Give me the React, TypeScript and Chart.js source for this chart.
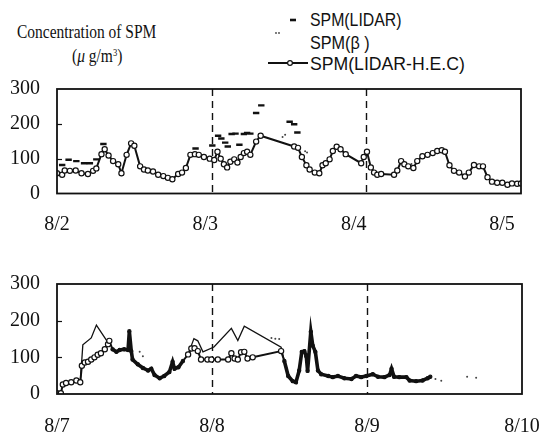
import { useEffect, useRef } from "react";
import { Chart, registerables } from "chart.js";

Chart.register(...registerables);

// ---- data -------------------------------------------------------------
// x values are hours counted from 00:00 of the first day of each panel

const TOP_DAY_LABELS = ["8/2", "8/3", "8/4", "8/5"];
const BOTTOM_DAY_LABELS = ["8/7", "8/8", "8/9", "8/10"];
const Y_TICKS = [0, 100, 200, 300];

// 8/2 - 8/5 : SPM(LIDAR-H.E.C)
const topHecHours = [
  0, 0.8, 1.2, 2.0, 2.9, 3.8, 4.8, 5.6, 6.1, 6.9, 7.4, 8.0, 8.7, 9.5, 10.0, 10.8,
  11.5, 12.0, 12.9, 13.5, 14.1, 14.9, 15.7, 16.5, 17.2, 17.9, 18.8, 19.4, 20.0,
  20.7, 21.4, 22.0, 22.8, 23.7, 24.4, 24.9, 25.4, 25.9, 26.4, 26.9, 27.5, 28.0,
  28.5, 29.0, 29.5, 30.0, 30.9, 31.6, 36.8, 37.4, 38.0, 38.7, 39.2, 40.0, 40.7,
  41.2, 41.7, 42.3, 42.8, 43.4, 44.0, 44.8, 47.2, 47.6, 48.1, 48.7, 49.2, 49.7,
  50.3, 52.3, 52.8, 53.4, 53.9, 54.5, 55.3, 55.9, 56.7, 57.5, 58.3, 59.0, 59.7,
  60.2, 60.9, 61.6, 62.4, 63.3, 63.9, 64.7, 65.5, 66.1, 66.8, 67.5, 68.3, 69.1,
  69.9, 70.6, 71.4, 72.0,
];
const topHecValues = [
  58, 54, 66, 65, 66, 58, 56, 65, 72, 113, 127, 109, 93, 84, 58, 111,
  144, 137, 78, 69, 66, 63, 54, 50, 45, 41, 56, 60, 73,
  111, 113, 111, 105, 100, 96, 120, 100, 84, 75, 91, 98, 89,
  105, 116, 120, 111, 149, 166, 135, 131, 105, 81, 69, 60, 58,
  81, 87, 98, 122, 134, 127, 113, 87, 105, 120, 75, 60, 54,
  56, 54, 66, 93, 84, 78, 73, 93, 107, 111, 116, 122, 124,
  120, 81, 65, 60, 49, 60, 82, 78, 78, 47, 34, 31, 31,
  25, 29, 28, 29,
];

// 8/2 - 8/5 : SPM(LIDAR)
const topLidarHours = [
  0.8, 1.8, 3.0, 4.2, 5.1, 6.1, 7.2, 21.5, 24.1, 25.0, 25.5, 26.1, 26.5, 27.1,
  27.7, 28.3, 29.0, 29.5, 30.0, 30.9, 31.7, 36.1, 36.8, 37.3,
];
const topLidarValues = [
  82, 97, 93, 87, 87, 98, 142, 129, 138, 166, 158, 146, 135, 171,
  172, 140, 171, 174, 172, 231, 253, 206, 199, 175,
];

// 8/2 - 8/5 : SPM(beta)
const topBetaHours = [35.0, 35.4, 38.5, 38.8, 55.0];
const topBetaValues = [162, 169, 121, 118, 85];

// 8/7 - 8/10 : SPM(LIDAR-H.E.C)
const bottomHecHours = [
  0, 0.6, 0.9, 1.4, 2.2, 3.0, 3.6, 3.85, 4.3, 4.8, 5.3, 5.8, 6.3, 6.8, 7.4, 7.9,
  8.1, 8.6, 9.2, 9.7, 10.4, 11.0, 11.2, 11.5, 11.7, 12.5, 13.3, 14.1, 14.6, 15.1,
  15.9, 16.6, 17.4, 17.9, 18.2, 18.8, 19.5, 20.3, 20.8, 21.3, 21.8, 22.3, 23.3,
  23.9, 24.9, 26.5, 27.0, 27.5, 28.0, 28.5, 29.0, 29.5, 30.3, 34.7, 35.2, 35.8,
  36.5, 37.0, 37.5, 37.9, 38.3, 38.6, 38.8, 39.3, 39.6, 40.0, 40.4, 40.9, 42.0,
  42.7, 43.5, 44.5, 45.6, 46.3, 47.1, 47.9, 48.9, 49.7, 50.7, 51.5, 51.8, 52.2,
  53.0, 54.1, 54.6, 55.6, 56.6, 57.4, 57.8,
];
const bottomHecValues = [
  2, 2, 26, 30, 32, 37, 32, 77, 86, 88, 94, 100, 107, 111, 122, 136,
  145, 122, 115, 120, 122, 120, 171, 117, 94, 81, 71, 64, 69, 52,
  43, 49, 60, 88, 69, 73, 90, 108, 124, 125, 117, 94, 94,
  94, 94, 94, 111, 97, 94, 114, 115, 97, 100, 117, 90, 49,
  35, 32, 64, 115, 117, 103, 63, 170, 132, 115, 64, 54, 49,
  46, 49, 43, 41, 49, 46, 49, 54, 47, 46, 52, 69, 47,
  46, 46, 37, 35, 37, 43, 47,
];

// 8/7 - 8/10 : SPM(LIDAR), drawn as a thin line (null = break)
const bottomLidarHours = [
  3.6, 4.0, 5.3, 6.1, 7.9, 8.1, 14.0, 20.3, 21.2, 21.8, 22.6, 24.3, 27.0, 28.0,
  29.0, 34.7, 35.2,
];
const bottomLidarValues = [
  32, 134, 153, 188, 140, 145, null, 108, 151, 145, 115, 128, 179, 146,
  185, 128, 90,
];

// 8/7 - 8/10 : SPM(beta)
const bottomBetaHours = [12.8, 13.3, 33.2, 33.8, 34.4, 58.6, 59.5, 63.5, 64.9];
const bottomBetaValues = [115, 103, 153, 151, 150, 41, 36, 47, 44];

// ---- helpers ----------------------------------------------------------

type Pt = { x: number; y: number | null };
const zip = (xs: number[], ys: (number | null)[]): Pt[] =>
  xs.map((x, i) => ({ x, y: ys[i] }));

const INK = "#111";
const SERIF = "'Liberation Serif', 'Times New Roman', serif";

// frame, inner y ticks and dashed day separators
const framePlugin = {
  id: "panelFrame",
  beforeDatasetsDraw(chart: any) {
    const { ctx, chartArea: a, scales } = chart;
    ctx.save();
    ctx.strokeStyle = INK;
    ctx.lineWidth = 1.4;
    ctx.setLineDash([7, 5]);
    [24, 48].forEach((h) => {
      const px = Math.round(scales.x.getPixelForValue(h)) + 0.5;
      ctx.beginPath();
      ctx.moveTo(px, a.top);
      ctx.lineTo(px, a.bottom);
      ctx.stroke();
    });
    ctx.restore();
  },
  afterDraw(chart: any) {
    const { ctx, chartArea: a, scales } = chart;
    ctx.save();
    ctx.strokeStyle = INK;
    ctx.lineWidth = 1.8;
    ctx.strokeRect(a.left, a.top, a.right - a.left, a.bottom - a.top);
    ctx.lineWidth = 1.2;
    Y_TICKS.slice(1, -1).forEach((v) => {
      const py = Math.round(scales.y.getPixelForValue(v)) + 0.5;
      ctx.beginPath();
      ctx.moveTo(a.left, py);
      ctx.lineTo(a.left + 5, py);
      ctx.stroke();
    });
    ctx.restore();
  },
};

type PanelOpts = {
  hec: Pt[];
  lidar: Pt[];
  beta: Pt[];
  lidarAsLine: boolean;
  dayLabels: string[];
  labelMax: number;
  height: number;
  areaTop: number;
  areaBottom: number;
  rightPad: number;
  labelGap: number;
  dense: (h: number) => boolean;
};

function makeConfig(o: PanelOpts): any {
  const lidarDataset = o.lidarAsLine
    ? {
        label: "SPM(LIDAR)",
        data: o.lidar,
        showLine: true,
        spanGaps: false,
        borderColor: INK,
        borderWidth: 1.3,
        pointRadius: 0,
        order: 2,
      }
    : {
        label: "SPM(LIDAR)",
        data: o.lidar,
        showLine: false,
        pointStyle: "line",
        pointRadius: 3.2,
        pointBorderWidth: 2.4,
        pointBorderColor: INK,
        borderColor: INK,
        order: 2,
      };

  return {
    type: "line",
    data: {
      datasets: [
        {
          label: "SPM(LIDAR-H.E.C)",
          data: o.hec,
          borderColor: INK,
          borderWidth: 2,
          tension: 0,
          pointStyle: "circle",
          pointRadius: (c: any) => (o.dense(c.raw.x) ? 1.6 : 2.6),
          pointBackgroundColor: (c: any) => (o.dense(c.raw.x) ? INK : "#fff"),
          pointBorderColor: INK,
          pointBorderWidth: 1.2,
          segment: {
            borderWidth: (c: any) =>
              o.dense(c.p0.parsed.x) && o.dense(c.p1.parsed.x) ? 3.6 : 2,
          },
          order: 0,
        },
        lidarDataset,
        {
          label: "SPM(β)",
          data: o.beta,
          showLine: false,
          pointStyle: "circle",
          pointRadius: 1,
          pointBorderWidth: 0,
          pointBackgroundColor: "#444",
          order: 1,
        },
      ],
    },
    options: {
      responsive: false,
      animation: false,
      events: [],
      layout: {
        padding: { top: o.areaTop, right: o.rightPad, left: 0, bottom: 0 },
      },
      plugins: { legend: { display: false }, tooltip: { enabled: false } },
      scales: {
        x: {
          type: "linear",
          position: "bottom",
          min: 0,
          max: 72,
          grid: { display: false, drawTicks: false },
          border: { display: false },
          ticks: { display: false },
          afterFit: (s: any) => {
            s.height = o.labelGap;
          },
        },
        xLabels: {
          type: "linear",
          position: "bottom",
          min: 0,
          max: o.labelMax,
          grid: { display: false, drawTicks: false },
          border: { display: false },
          ticks: {
            stepSize: 24,
            includeBounds: false,
            autoSkip: false,
            maxRotation: 0,
            padding: 0,
            color: INK,
            font: { family: SERIF, size: 20 },
            callback: (v: number) => o.dayLabels[Math.round(v / 24)] ?? "",
          },
          afterFit: (s: any) => {
            s.height = o.height - o.areaBottom - o.labelGap;
          },
        },
        y: {
          type: "linear",
          min: 0,
          max: 300,
          grid: { display: false, drawTicks: false },
          border: { display: false },
          ticks: {
            stepSize: 100,
            padding: 17,
            color: INK,
            font: { family: SERIF, size: 20 },
          },
          afterFit: (s: any) => {
            s.width = 57;
          },
        },
      },
    },
    plugins: [framePlugin],
  };
}

function Panel(props: { top: number; opts: PanelOpts }) {
  const ref = useRef<HTMLCanvasElement | null>(null);
  useEffect(() => {
    if (!ref.current) return;
    const chart = new Chart(ref.current, makeConfig(props.opts));
    return () => chart.destroy();
  }, []);
  return (
    <canvas
      ref={ref}
      width={541}
      height={props.opts.height}
      style={{ position: "absolute", left: 0, top: props.top, width: 541, height: props.opts.height }}
    />
  );
}

const TOP_PANEL: PanelOpts = {
  hec: zip(topHecHours, topHecValues),
  lidar: zip(topLidarHours, topLidarValues),
  beta: zip(topBetaHours, topBetaValues),
  lidarAsLine: false,
  dayLabels: TOP_DAY_LABELS,
  labelMax: 75.07,
  height: 190,
  areaTop: 19,
  areaBottom: 133.5,
  rightPad: 20,
  labelGap: 19,
  dense: () => false,
};

const BOTTOM_PANEL: PanelOpts = {
  hec: zip(bottomHecHours, bottomHecValues),
  lidar: zip(bottomLidarHours, bottomLidarValues),
  beta: zip(bottomBetaHours, bottomBetaValues),
  lidarAsLine: true,
  dayLabels: BOTTOM_DAY_LABELS,
  labelMax: 72,
  height: 182,
  areaTop: 18.5,
  areaBottom: 139,
  rightPad: 19,
  labelGap: 21,
  dense: (h: number) => (h > 8.4 && h < 20.0) || (h > 35.0 && h < 60),
};

const sans = "'Liberation Sans', Arial, sans-serif";

const textStyle = (
  left: number,
  centerY: number,
  size: number,
  family: string,
  scaleX: number
): any => ({
  position: "absolute",
  left,
  top: centerY - size / 2,
  fontSize: size,
  lineHeight: `${size}px`,
  fontFamily: family,
  color: INK,
  whiteSpace: "nowrap",
  transform: `scaleX(${scaleX})`,
  transformOrigin: "left center",
});

export default function App() {
  return (
    <div
      style={{
        position: "absolute",
        left: 0,
        top: 0,
        width: 541,
        height: 437,
        background: "#fff",
        overflow: "hidden",
      }}
    >
      <div style={textStyle(17, 32, 18, SERIF, 0.86)}>Concentration of SPM</div>
      <div style={textStyle(72, 53, 18, SERIF, 0.86)}>
        (<i>μ</i> g/m<sup style={{ fontSize: 10, verticalAlign: 6 }}>3</sup>)
      </div>

      <svg
        width={60}
        height={80}
        style={{ position: "absolute", left: 255, top: 0 }}
      >
        <line x1={35} y1={20} x2={41} y2={20} stroke={INK} strokeWidth={2.6} />
        <circle cx={21} cy={33} r={0.9} fill="#444" />
        <circle cx={24} cy={33} r={0.9} fill="#444" />
        <line x1={13} y1={63} x2={53} y2={63} stroke={INK} strokeWidth={2} />
        <circle cx={35} cy={63} r={2.4} fill="#fff" stroke={INK} strokeWidth={1.2} />
      </svg>
      <div style={textStyle(310, 20, 18, sans, 0.88)}>SPM(LIDAR)</div>
      <div style={textStyle(310, 43, 18, sans, 0.9)}>SPM(β )</div>
      <div style={textStyle(310, 64, 18, sans, 0.98)}>SPM(LIDAR-H.E.C)</div>

      <Panel top={60} opts={TOP_PANEL} />
      <Panel top={255} opts={BOTTOM_PANEL} />
    </div>
  );
}
